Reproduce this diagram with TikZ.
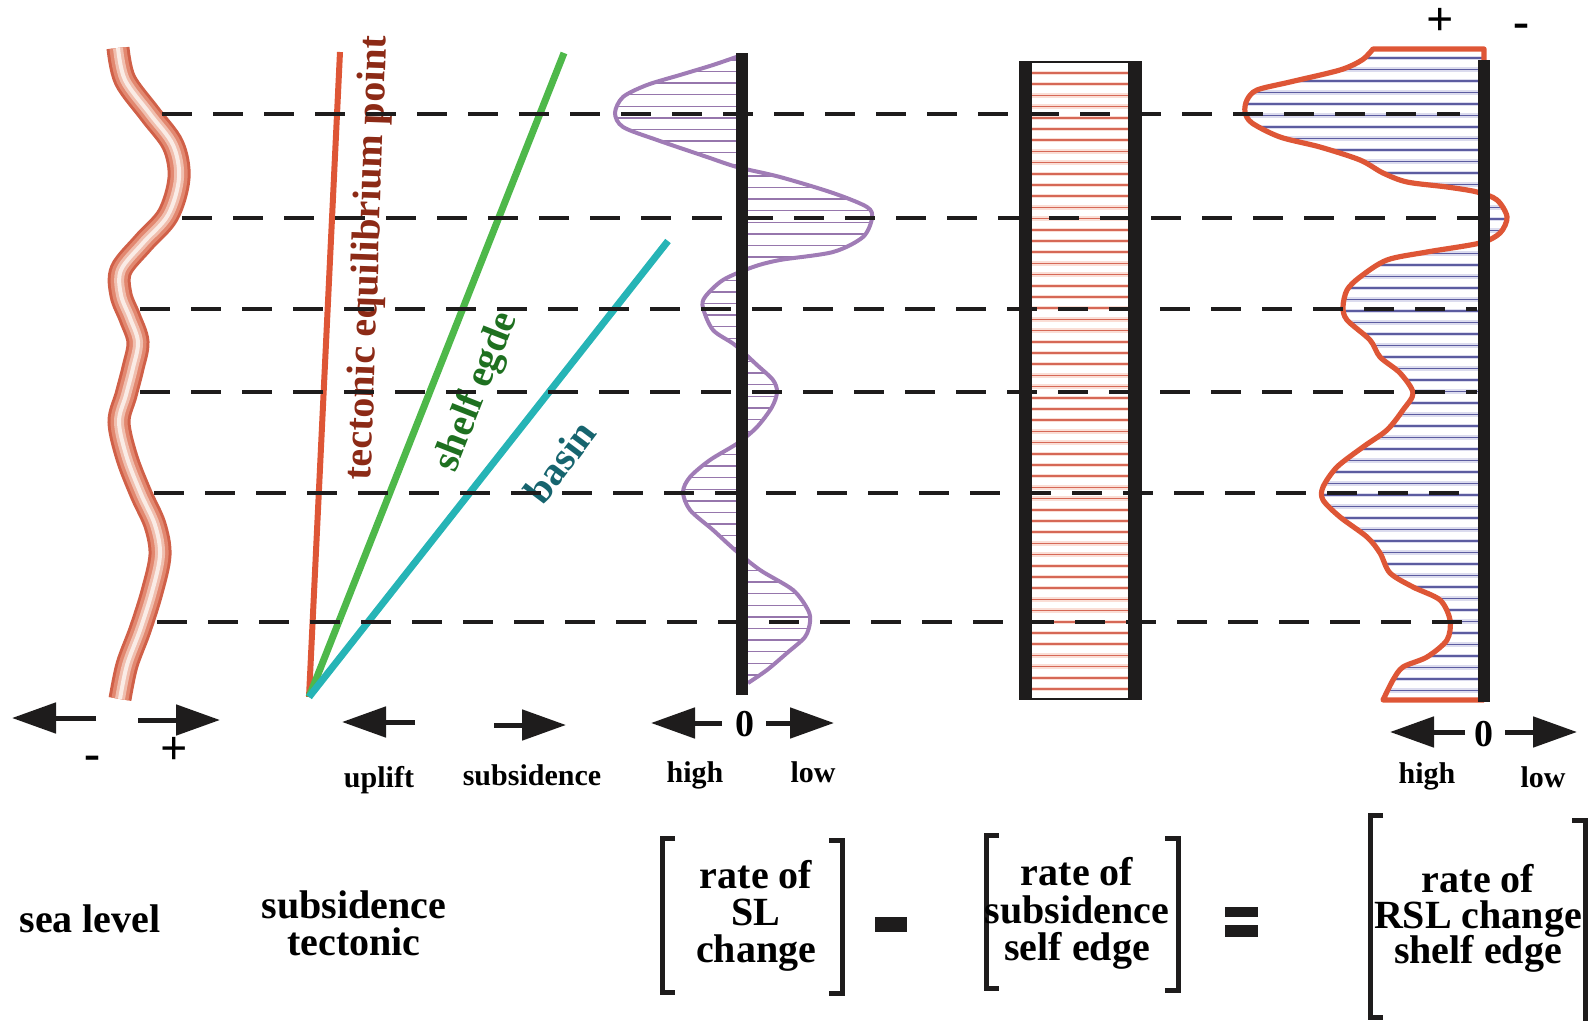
\documentclass[tikz,border=0pt]{standalone}
\usepackage{fontspec}
\setmainfont{Liberation Serif}
\usetikzlibrary{arrows.meta}

\definecolor{inkblack}{RGB}{30,28,28}
\definecolor{tecred}{RGB}{222,86,54}
\definecolor{tecdark}{RGB}{140,42,22}
\definecolor{shelfgreen}{RGB}{78,184,74}
\definecolor{shelfdark}{RGB}{30,112,32}
\definecolor{basincyan}{RGB}{38,180,182}
\definecolor{basindark}{RGB}{22,100,110}
\definecolor{slpurple}{RGB}{160,124,182}
\definecolor{hatchpurple}{RGB}{150,118,172}
\definecolor{boxred}{RGB}{214,104,86}
\definecolor{boxhalo}{RGB}{250,222,214}
\definecolor{rslblue}{RGB}{92,92,160}
\definecolor{rslhalo}{RGB}{220,220,238}
\definecolor{tubeA}{RGB}{208,96,72}
\definecolor{tubeB}{RGB}{226,136,112}
\definecolor{tubeC}{RGB}{240,190,174}
\definecolor{tubeD}{RGB}{250,236,230}

% sea-level curve (tube centre line)
\def\seapts{(118,48) (125,80) (150,114) (173,145) (179,178) (168,215) (143,243) (121,270) (121,295) (130,318) (138,342) (133,368) (126,395) (119,422) (127,458) (141,494) (155,525) (160,555) (152,592) (140,630) (127,665) (120,699)}
% rate of sea-level change
\def\slpts{(742,55) (713,65) (680,75) (647,85) (623,97) (615,113) (623,127) (657,140) (707,157) (737,167) (780,177) (833,193) (867,207) (872,218) (863,237) (833,252) (780,260) (753,267) (723,280) (705,297) (703,308) (713,330) (735,345) (757,365) (773,380) (777,392) (772,407) (757,427) (738,443) (710,460) (690,477) (683,492) (690,510) (713,530) (735,550) (760,570) (793,590) (808,610) (810,622) (805,637) (787,653) (767,670) (748,683)}
% rate of relative sea-level change
\def\rslpts{(1373,49) (1362,60) (1340,70) (1290,82) (1257,90) (1247,100) (1245,112) (1252,123) (1280,137) (1320,147) (1360,160) (1383,173) (1407,182) (1447,187) (1477,192) (1497,200) (1507,217) (1500,233) (1480,243) (1427,252) (1387,260) (1360,277) (1347,290) (1343,307) (1347,320) (1370,340) (1380,357) (1400,373) (1413,393) (1403,410) (1387,430) (1363,447) (1337,467) (1323,487) (1323,500) (1340,517) (1367,537) (1380,553) (1390,573) (1413,587) (1440,600) (1450,620) (1447,640) (1427,657) (1403,667) (1393,680) (1383,700)}

\begin{document}
\begin{tikzpicture}[x=0.5pt,y=-0.5pt,
  lbl/.style={font=\fontsize{20}{20}\selectfont\bfseries, inner sep=0pt, anchor=base},
  signlbl/.style={font=\fontsize{24}{24}\selectfont\bfseries, inner sep=0pt, anchor=base, text height=0.6em, text depth=0pt},
  smalllbl/.style={font=\fontsize{15}{15}\selectfont\bfseries, inner sep=0pt, anchor=base},
  zerolbl/.style={font=\fontsize{19}{19}\selectfont\bfseries, inner sep=0pt},
  linelbl/.style={font=\fontsize{20}{20}\selectfont\bfseries, inner sep=0pt},
  dashline/.style={line width=2pt, inkblack, dash pattern=on 15pt off 10.5pt},
  bigarrow/.style={line width=2.5pt, inkblack, -{Triangle[length=22pt,width=15pt]}},
  brk/.style={line width=2.5pt, inkblack},
  blackbar/.style={fill=inkblack, draw=none},
  phatch/.style={line width=0.7pt, hatchpurple},
  bhatch/.style={line width=0.8pt, boxred},
  bhalo/.style={line width=2.2pt, boxhalo},
  rhatch/.style={line width=0.75pt, rslblue},
  rhalo/.style={line width=2.2pt, rslhalo},
  smoothcurve/.style={smooth, tension=0.5},
  tubecurve/.style={smooth, tension=0.55}]

\useasboundingbox (0,0) rectangle (1589,1021);

% ---------- hatching ----------
\begin{scope}
  \clip plot[smoothcurve] coordinates {\slpts} -- cycle;
  \foreach \y in {60,71.6,...,692} \draw[phatch] (590,\y) -- (900,\y);
\end{scope}

\foreach \y in {73,84.2,...,695} {
  \draw[bhalo] (1032,\y) -- (1128,\y);
  \draw[bhatch] (1032,\y) -- (1128,\y);
}

\begin{scope}
  \clip (1484,49) -- (1373,49) -- plot[smoothcurve] coordinates {\rslpts} -- (1484,700) -- cycle;
  \foreach \y in {58,69.5,...,700} {
    \draw[rhalo] (1220,\y) -- (1520,\y);
    \draw[rhatch] (1220,\y) -- (1520,\y);
  }
\end{scope}

% ---------- sea level tube ----------
\draw[line width=11.5pt, tubeA] plot[tubecurve] coordinates {\seapts};
\draw[line width=8.5pt, tubeB] plot[tubecurve] coordinates {\seapts};
\draw[line width=5pt, tubeC] plot[tubecurve] coordinates {\seapts};
\draw[line width=2pt, tubeD] plot[tubecurve] coordinates {\seapts};

% ---------- tectonic subsidence lines ----------
\coordinate (apex) at (309,697);
\coordinate (tecTop) at (340,52);
\coordinate (shelfTop) at (564,53);
\coordinate (basinTop) at (668,241);
\draw[line width=3pt, tecred] (apex) -- (tecTop);
\draw[line width=3.5pt, shelfgreen] (apex) -- (shelfTop);
\draw[line width=3.5pt, basincyan] (apex) -- (basinTop);

\node[linelbl, text=tecdark, rotate=88] (tecLbl) at (369,258) {tectonic equilibrium point};
\node[linelbl, text=shelfdark, rotate=68.5] (shelfLbl) at (477,392) {shelf egde};
\node[linelbl, text=basindark, rotate=53] (basinLbl) at (560,462) {basin};

% ---------- curves ----------
\draw[line width=2pt, slpurple] plot[smoothcurve] coordinates {\slpts};
\draw[line width=2.6pt, tecred, line join=round] (1484,62) -- (1484,49) -- (1373,49) -- plot[smoothcurve] coordinates {\rslpts} -- (1484,700);

% ---------- time lines ----------
\coordinate (d1a) at (162,114);  \coordinate (d1b) at (1460,114);
\coordinate (d2a) at (182,218);  \coordinate (d2b) at (1480,218);
\coordinate (d3a) at (140,309);  \coordinate (d3b) at (1477,309);
\coordinate (d4a) at (140,392);  \coordinate (d4b) at (1477,392);
\coordinate (d5a) at (154,493);  \coordinate (d5b) at (1477,493);
\coordinate (d6a) at (157,622);  \coordinate (d6b) at (1477,622);
\foreach \i in {1,...,6} \draw[dashline] (d\i a) -- (d\i b);

% ---------- zero axes and the subsidence column ----------
\fill[blackbar] (736,53) rectangle (748,695);
\fill[blackbar] (1019,61) rectangle (1032,700);
\fill[blackbar] (1128,61) rectangle (1142,700);
\draw[line width=1.2pt, inkblack] (1032,62) -- (1128,62);
\draw[line width=1.2pt, inkblack] (1032,699) -- (1128,699);
\fill[blackbar] (1478,60) rectangle (1490,702);

% ---------- axis arrows ----------
\coordinate (sl1t) at (96,718);   \coordinate (sl1h) at (12,718);
\coordinate (sl2t) at (138,720);  \coordinate (sl2h) at (220,720);
\draw[bigarrow] (sl1t) -- (sl1h);
\draw[bigarrow] (sl2t) -- (sl2h);
\node[signlbl] (slMinus) at (92,769) {-};
\node[signlbl] (slPlus) at (174,764) {+};

\coordinate (ts1t) at (415,722);  \coordinate (ts1h) at (342,722);
\coordinate (ts2t) at (494,725);  \coordinate (ts2h) at (566,725);
\draw[bigarrow] (ts1t) -- (ts1h);
\draw[bigarrow] (ts2t) -- (ts2h);
\node[smalllbl] (uplift) at (379,787) {uplift};
\node[smalllbl] (subs) at (532,785) {subsidence};

\coordinate (pa1t) at (722,723);  \coordinate (pa1h) at (651,723);
\coordinate (pa2t) at (766,723);  \coordinate (pa2h) at (834,723);
\draw[bigarrow] (pa1t) -- (pa1h);
\draw[bigarrow] (pa2t) -- (pa2h);
\node[zerolbl] (pZero) at (745,724) {0};
\node[smalllbl] (pHigh) at (695,782) {high};
\node[smalllbl] (pLow) at (813,782) {low};

\coordinate (ra1t) at (1465,732); \coordinate (ra1h) at (1390,732);
\coordinate (ra2t) at (1505,732); \coordinate (ra2h) at (1577,732);
\draw[bigarrow] (ra1t) -- (ra1h);
\draw[bigarrow] (ra2t) -- (ra2h);
\node[zerolbl] (rZero) at (1484,734) {0};
\node[smalllbl] (rHigh) at (1427,783) {high};
\node[smalllbl] (rLow) at (1543,787) {low};

\node[signlbl] (topPlus) at (1440,36) {+};
\node[signlbl] (topMinus) at (1521,38) {-};

% ---------- bottom captions ----------
\node[lbl] (seaLevel) at (90,932) {sea level};
\node[lbl] (subsA) at (354,918) {subsidence};
\node[lbl] (subsB) at (354,955) {tectonic};

\draw[brk] (675,838) -- (662,838) -- (662,992) -- (675,992);
\draw[brk] (829,840) -- (842,840) -- (842,993) -- (829,993);
\node[lbl] (g1a) at (756,888) {rate of};
\node[lbl] (g1b) at (756,925) {SL};
\node[lbl] (g1c) at (756,962) {change};

\fill[blackbar] (875,917) rectangle (907,932);

\draw[brk] (999,835) -- (986,835) -- (986,988) -- (999,988);
\draw[brk] (1165,838) -- (1178,838) -- (1178,990) -- (1165,990);
\node[lbl] (g2a) at (1077,885) {rate of};
\node[lbl] (g2b) at (1077,923) {subsidence};
\node[lbl] (g2c) at (1077,960) {self edge};

\fill[blackbar] (1225,907) rectangle (1258,917);
\fill[blackbar] (1225,925) rectangle (1258,937);

\draw[brk] (1383,815) -- (1370,815) -- (1370,1017) -- (1383,1017);
\draw[brk] (1572,820) -- (1585,820) -- (1585,1025);
\node[lbl] (g3a) at (1478,892) {rate of};
\node[lbl] (g3b) at (1478,928) {RSL change};
\node[lbl] (g3c) at (1478,963) {shelf edge};

\end{tikzpicture}
\end{document}
